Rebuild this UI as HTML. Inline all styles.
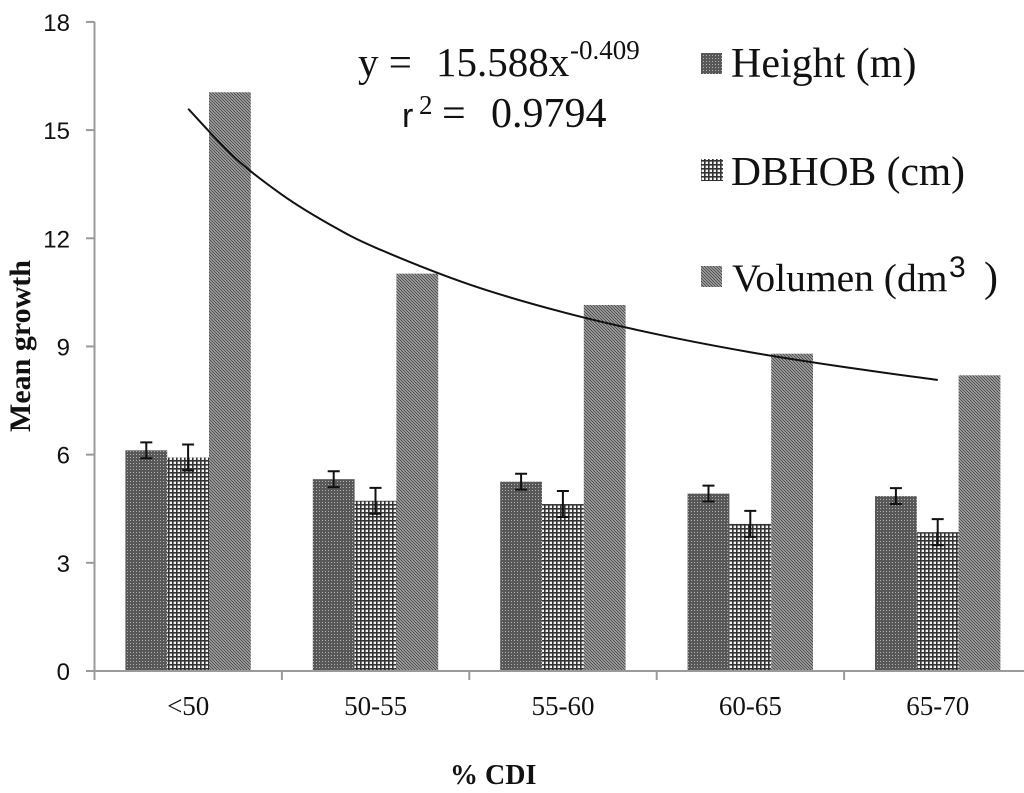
<!DOCTYPE html>
<html lang="en">
<head>
<meta charset="utf-8">
<title>Mean growth by % CDI</title>
<style>
html,body{margin:0;padding:0;background:#fff;width:1024px;height:793px;overflow:hidden}
svg{display:block}
.serif{font-family:"Liberation Serif",serif;fill:#111}
.sans{font-family:"Liberation Sans",sans-serif;fill:#111}
</style>
</head>
<body>
<svg id="chart" xmlns="http://www.w3.org/2000/svg" width="1024" height="793" viewBox="0 0 1024 793">
<defs>
<pattern id="p-height" width="3" height="3" patternUnits="userSpaceOnUse">
<rect width="3" height="3" fill="#585858"/>
<rect x="1" y="1" width="1" height="1" fill="#b0b0b0"/>
</pattern>
<pattern id="p-dbhob" width="4" height="4" patternUnits="userSpaceOnUse">
<rect width="4" height="4" fill="#f4f4f4"/>
<rect width="4" height="1.6" fill="#333"/>
<rect width="1.6" height="4" fill="#333"/>
</pattern>
<pattern id="p-volume" width="3" height="3" patternUnits="userSpaceOnUse">
<rect width="3" height="3" fill="#bcbcbc"/>
<path d="M-1,-1 L4,4 M-1,2 L1,4 M2,-1 L4,1" stroke="#505050" stroke-width="1.2"/>
</pattern>
</defs>
<g id="bars"></g>
<g id="errors"></g>
<g id="axes"></g>
<path id="trend" fill="none" stroke="#111" stroke-width="2"/>
<text class="serif" x="450" y="784" font-size="28" font-weight="bold">% CDI</text>
<text class="serif" transform="translate(30,432) rotate(-90)" font-size="30" font-weight="bold">Mean growth</text>
<text class="serif" y="76" font-size="41"><tspan x="358">y =</tspan><tspan x="436">15.588x</tspan><tspan x="570" y="59" font-size="27">-0.409</tspan></text>
<text class="serif" y="127" font-size="42"><tspan class="sans" x="402" font-size="34">r</tspan><tspan x="419" y="114" font-size="27">2</tspan><tspan x="442" y="127">=</tspan><tspan x="491">0.9794</tspan></text>
<g>
<rect x="701" y="53" width="21" height="21" fill="url(#p-height)"/>
<text class="serif" x="731" y="77" font-size="42">Height (m)</text>
<rect x="701" y="159" width="22" height="22" fill="url(#p-dbhob)"/>
<text class="serif" x="731" y="185" font-size="41.5">DBHOB (cm)</text>
<rect x="701" y="266" width="21" height="21" fill="url(#p-volume)"/>
<text class="serif" x="732" y="291" font-size="39.5">Volumen (dm<tspan class="sans" x="949" y="277" font-size="30">3</tspan><tspan x="984" y="291" font-size="42">)</tspan></text>
</g>
</svg>
<script>
const categories = ['<50', '50-55', '55-60', '60-65', '65-70'];
const heightValues = [6.12, 5.32, 5.25, 4.92, 4.85];
const dbhobValues = [5.92, 4.72, 4.63, 4.08, 3.85];
const volumeValues = [16.05, 11.02, 10.15, 8.8, 8.2];
const heightErrors = [0.22, 0.22, 0.22, 0.22, 0.22];
const dbhobErrors = [0.36, 0.36, 0.36, 0.36, 0.36];
const yTickLabels = [0, 3, 6, 9, 12, 15, 18];
const trendPositions = [1, 1.25, 1.5, 1.75, 2, 2.5, 3, 3.5, 4, 4.5, 5];
const trendValues = [15.59, 14.23, 13.21, 12.4, 11.74, 10.72, 9.95, 9.34, 8.84, 8.43, 8.07];

const NS = 'http://www.w3.org/2000/svg';
const X0 = 94.5, CAT_W = 187.4, Y0 = 671, UNIT = 36.06, BAR_W = 41.8;
const xAt = c => X0 + CAT_W * c;
const yAt = v => Y0 - UNIT * v;
const make = (tag, parent, attrs) => {
  const el = document.createElementNS(NS, tag);
  for (const k in attrs) el.setAttribute(k, attrs[k]);
  parent.appendChild(el);
  return el;
};
const barsG = document.getElementById('bars');
const errG = document.getElementById('errors');
const axesG = document.getElementById('axes');

const series = [
  {key: 'height', vals: heightValues, errs: heightErrors, fill: 'url(#p-height)'},
  {key: 'dbhob', vals: dbhobValues, errs: dbhobErrors, fill: 'url(#p-dbhob)'},
  {key: 'volumen', vals: volumeValues, errs: null, fill: 'url(#p-volume)'}
];
series.forEach((s, si) => {
  s.vals.forEach((v, i) => {
    const left = xAt(i) + 30.9 + si * BAR_W;
    const bar = make('rect', barsG, {x: left, y: yAt(v), width: BAR_W, height: Y0 - yAt(v), fill: s.fill});
    
    
    if (s.errs) {
      const cx = left + BAR_W / 2;
      const e = s.errs[i];
      const err = make('path', errG, {
        d: 'M' + cx + ',' + yAt(v + e) + 'V' + yAt(v - e) +
           'M' + (cx - 6) + ',' + yAt(v + e) + 'h12' +
           'M' + (cx - 6) + ',' + yAt(v - e) + 'h12',
        stroke: '#111', 'stroke-width': 2, fill: 'none'
      });
      
      
    }
  });
});

const yLine = make('path', axesG, {d: 'M' + X0 + ',' + yAt(18) + 'V680', stroke: '#9a9a9a', 'stroke-width': 2, fill: 'none'});


const xLine = make('path', axesG, {d: 'M86,' + Y0 + 'H1024', stroke: '#9a9a9a', 'stroke-width': 2, fill: 'none'});



yTickLabels.forEach(t => {
  const tick = make('path', axesG, {d: 'M86,' + yAt(t) + 'H' + X0, stroke: '#9a9a9a', 'stroke-width': 2});
  
  
  const label = make('text', axesG, {x: 70, y: yAt(t) + 9, 'text-anchor': 'end', 'font-size': 24, class: 'sans'});
  
  
  label.textContent = t;
});
categories.forEach((c, i) => {
  const tick = make('path', axesG, {d: 'M' + xAt(i + 1) + ',' + Y0 + 'V680', stroke: '#9a9a9a', 'stroke-width': 2});
  
  
  const label = make('text', axesG, {x: xAt(i) + CAT_W / 2, y: 715, 'text-anchor': 'middle', 'font-size': 27, class: 'serif'});
  
  
  label.textContent = c;
});

const trendPts = trendPositions.map((p, i) => [xAt(p - 0.5), yAt(trendValues[i])]);
let d = 'M' + trendPts[0][0] + ',' + trendPts[0][1];
for (let i = 0; i < trendPts.length - 1; i++) {
  const p0 = trendPts[Math.max(i - 1, 0)], p1 = trendPts[i], p2 = trendPts[i + 1], p3 = trendPts[Math.min(i + 2, trendPts.length - 1)];
  d += 'C' + (p1[0] + (p2[0] - p0[0]) / 6) + ',' + (p1[1] + (p2[1] - p0[1]) / 6) + ' ' +
       (p2[0] - (p3[0] - p1[0]) / 6) + ',' + (p2[1] - (p3[1] - p1[1]) / 6) + ' ' + p2[0] + ',' + p2[1];
}
document.getElementById('trend').setAttribute('d', d);
</script>
</body>
</html>
